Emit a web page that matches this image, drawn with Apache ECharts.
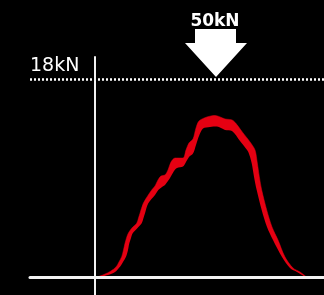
<!DOCTYPE html>
<html>
<head>
<meta charset="utf-8">
<script src="https://cdn.jsdelivr.net/npm/echarts@6/dist/echarts.min.js"></script>
<style>
  html, body { margin: 0; padding: 0; background: #000; }
  #main { width: 324px; height: 295px; }
</style>
</head>
<body>
<div id="main"></div>
<script>
// 力曲线：上边缘 / 下边缘（时间单位，kN）
var upperT = [1, 9, 16, 21, 24, 26.7, 28.5, 30, 31.5, 33.3, 36.7, 41.7, 43.5, 45, 48.3, 53.3, 56.7, 60, 63, 66, 70, 73, 76, 80, 88, 91, 94, 98, 101, 104, 112, 120, 130, 138, 148, 155, 160, 162.3, 164.3, 166.7, 171.7, 177, 183, 190, 198, 205, 209, 212]
var upperF = [0, 0.26, 0.58, 0.94, 1.4, 1.88, 2.49, 3.09, 3.58, 4.0, 4.46, 4.91, 5.39, 5.82, 6.72, 7.48, 7.93, 8.29, 8.84, 9.2, 9.29, 9.75, 10.47, 10.83, 10.83, 11.56, 12.2, 12.56, 13.56, 14.19, 14.56, 14.69, 14.38, 14.24, 13.11, 12.29, 11.56, 10.38, 9.14, 7.93, 6.12, 4.57, 3.39, 1.85, 0.85, 0.49, 0.22, 0]
var lowerT = [3, 13, 20, 25, 28, 31, 33, 34.3, 36, 37.7, 42.3, 46.7, 48.5, 50, 53.3, 60, 63.3, 67, 70, 75, 79, 82, 88, 91, 94, 98, 101, 104, 108, 115, 122, 130, 137, 145, 149, 153.3, 156.7, 159, 161.7, 166.7, 172, 178, 187, 195, 202, 207, 211]
var lowerF = [0, 0.22, 0.49, 0.97, 1.4, 1.88, 2.49, 3.09, 3.58, 4.0, 4.46, 4.91, 5.39, 5.82, 6.72, 7.48, 7.93, 8.2, 8.39, 9.02, 9.66, 9.93, 10.06, 10.47, 10.93, 11.24, 12.02, 12.83, 13.51, 13.65, 13.69, 13.38, 13.28, 12.38, 11.92, 11.38, 10.35, 9.14, 7.93, 6.12, 4.57, 3.39, 1.85, 0.85, 0.49, 0.22, 0]
var limitValue = 18
var limitLabel = '18kN'
var peakLabel = '50kN'

var upperData = []
for (var i = 0; i < upperT.length; i++) {
    upperData.push([upperT[i], upperF[i]])
}
var lowerData = []
for (var j = 0; j < lowerT.length; j++) {
    lowerData.push([lowerT[j], lowerF[j]])
}

var myChart = echarts.init(document.getElementById('main'))
var option = {
    backgroundColor: '#000',
    animation: false,
    grid: { left: 30, right: 0, top: 57, bottom: 0 },
    xAxis: {
        type: 'value',
        min: -65,
        max: 229,
        z: 5,
        axisLine: { onZero: true, lineStyle: { color: '#f2f2f2', width: 3 } },
        axisTick: { show: false },
        axisLabel: { show: false },
        splitLine: { show: false }
    },
    yAxis: {
        type: 'value',
        min: -1.6,
        max: 20,
        z: 5,
        axisLine: { show: true, onZero: true, lineStyle: { color: '#f2f2f2', width: 2 } },
        axisTick: { show: false },
        axisLabel: { show: false },
        splitLine: { show: false }
    },
    series: [
        {
            type: 'line',
            data: upperData,
            smooth: 0.3,
            symbol: 'none',
            z: 2,
            lineStyle: { color: '#e50012', width: 0.5 },
            areaStyle: { color: '#e50012', opacity: 1 },
            markLine: {
                silent: true,
                symbol: 'none',
                lineStyle: { color: '#fff', width: 2.5, type: [2, 2] },
                label: {
                    show: true,
                    position: 'insideStartTop',
                    formatter: limitLabel,
                    color: '#fff',
                    fontSize: 19,
                    fontFamily: 'DejaVu Sans',
                    distance: [0, 3]
                },
                data: [{ yAxis: limitValue }]
            }
        },
        {
            type: 'line',
            data: lowerData,
            smooth: 0.3,
            symbol: 'none',
            z: 3,
            lineStyle: { width: 0, opacity: 0 },
            areaStyle: { color: '#000', opacity: 1 }
        }
    ],
    graphic: [
        {
            type: 'polygon',
            shape: {
                points: [[195, 29], [236, 29], [236, 43], [247, 43], [216, 77], [185, 43], [195, 43]]
            },
            style: { fill: '#fff' }
        },
        {
            type: 'text',
            x: 215,
            y: 30,
            style: {
                text: peakLabel,
                fill: '#fff',
                font: 'bold 17px "DejaVu Sans"',
                textAlign: 'center',
                textVerticalAlign: 'bottom'
            }
        }
    ]
}
myChart.setOption(option)
</script>
</body>
</html>
